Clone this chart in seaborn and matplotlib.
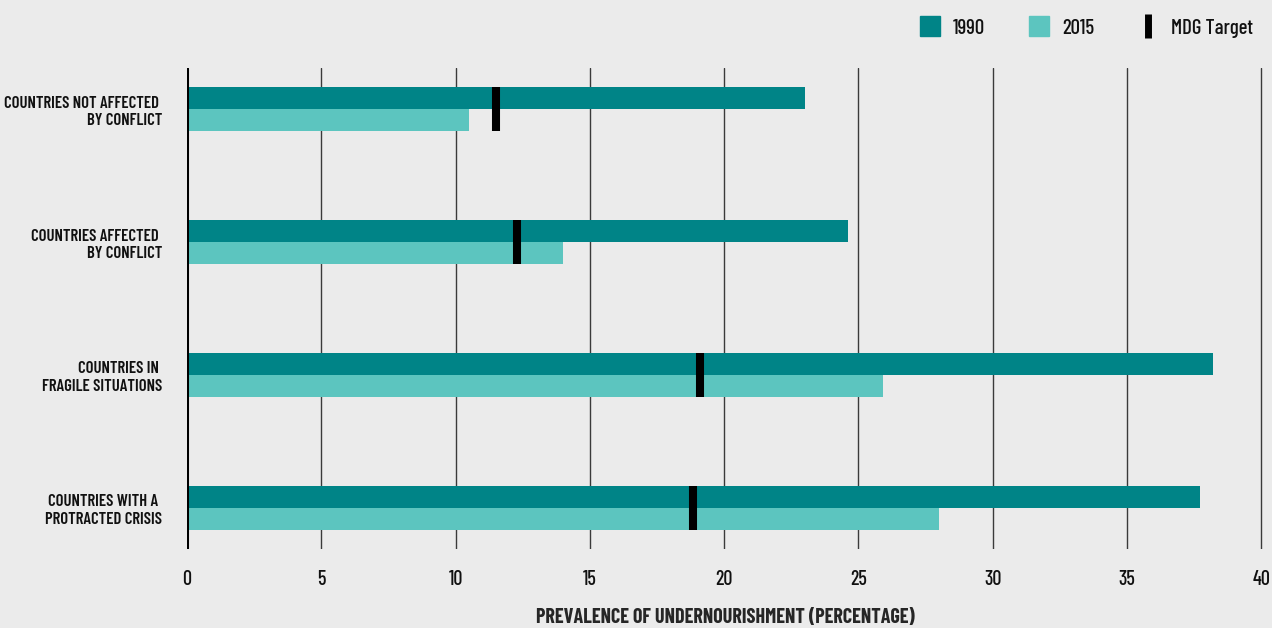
import numpy as np
import pandas as pd
import matplotlib
matplotlib.use("Agg")
import matplotlib.pyplot as plt
from matplotlib.lines import Line2D
import seaborn as sns

# Values
categories = [
    "COUNTRIES NOT AFFECTED \nBY CONFLICT",
    "COUNTRIES AFFECTED \nBY CONFLICT",
    "COUNTRIES IN \nFRAGILE SITUATIONS",
    "COUNTRIES WITH A \nPROTRACTED CRISIS",
]
values_1990 = [23.0, 24.6, 38.2, 37.7]
values_2015 = [10.5, 14.0, 25.9, 28.0]
mdg_target = [11.5, 12.3, 19.1, 18.85]
x_ticks = [0, 5, 10, 15, 20, 25, 30, 35, 40]

BG = "#EBEBEB"
DARK = "#008487"
LIGHT = "#5CC5BF"

sns.set_theme(style="white")
# narrow face close to the original condensed grotesque
plt.rcParams["font.family"] = ["Barlow Condensed", "Fira Sans Extra Condensed", "DejaVu Sans"]
plt.rcParams["font.weight"] = 500
plt.rcParams["text.color"] = "#111111"

df = pd.DataFrame({
    "category": categories * 2,
    "year": ["1990"] * 4 + ["2015"] * 4,
    "value": values_1990 + values_2015,
})

fig = plt.figure(figsize=(12.72, 6.28), dpi=100, facecolor=BG)
ax = fig.add_axes([187 / 1272, 1 - 549 / 628, (1264 - 187) / 1272, (549 - 68) / 628])
ax.set_facecolor(BG)

sns.barplot(data=df, x="value", y="category", hue="year", orient="h",
            palette={"1990": DARK, "2015": LIGHT}, width=0.33, linewidth=0,
            saturation=1, errorbar=None, legend=False, ax=ax, zorder=3)

# MDG target marker spanning both bars
ypos = np.arange(len(categories))
ax.vlines(mdg_target, ypos - 0.165, ypos + 0.165, colors="black",
          linewidth=5.8, capstyle="butt", zorder=4)

ax.set_xlim(0, 40.1)
ax.set_ylim(3.31, -0.31)
ax.set_xticks(x_ticks)
ax.set_xticklabels([str(t) for t in x_ticks])
for t in x_ticks[1:]:
    ax.axvline(t, color="#3a3a3a", linewidth=1.0, zorder=1)
ax.axvline(0, color="black", linewidth=2.2, zorder=5)

for s in ax.spines.values():
    s.set_visible(False)
ax.tick_params(axis="both", length=0, colors="#111111")
ax.tick_params(axis="x", pad=15, labelsize=14.5)
ax.tick_params(axis="y", pad=18, labelsize=12)
for lbl in ax.get_yticklabels():
    lbl.set_horizontalalignment("right")
    lbl.set_multialignment("right")
    lbl.set_linespacing(1.2)
    lbl.set_fontweight(600)

ax.set_ylabel("")
ax.set_xlabel("PREVALENCE OF UNDERNOURISHMENT (PERCENTAGE)", fontsize=14.5,
              fontweight="bold", labelpad=14)

handles = [
    Line2D([], [], marker="s", markersize=14, color=DARK, linestyle="none"),
    Line2D([], [], marker="s", markersize=14, color=LIGHT, linestyle="none"),
    Line2D([], [], marker="|", markersize=17, markeredgewidth=5, color="black",
           linestyle="none"),
]
fig.legend(handles, ["1990", "2015", "MDG Target"], loc="upper right",
           bbox_to_anchor=(1.0, 1.0), ncol=3, frameon=False, fontsize=15,
           handlelength=1.2, handletextpad=0.5, columnspacing=2.0)

fig.savefig("out.png", dpi=100, facecolor=BG)
